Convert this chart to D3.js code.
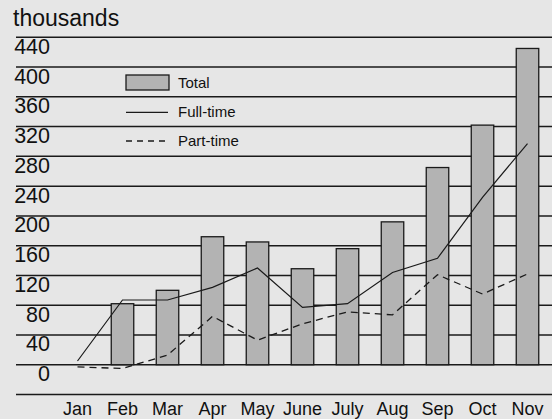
<!DOCTYPE html>
<html>
<head>
<meta charset="utf-8">
<script src="https://cdn.jsdelivr.net/npm/d3@7"></script>
<style>
  body { margin: 0; background: #e6e6e6; }
  svg { display: block; font-family: "Liberation Sans", Arial, sans-serif; }
</style>
</head>
<body>
<div class="chart"></div>
<script>
const width = 552
const height = 419

const months = ["Jan", "Feb", "Mar", "Apr", "May", "June", "July", "Aug", "Sep", "Oct", "Nov"]
const total = [0, 82, 100, 172, 165, 129, 156, 192, 265, 322, 425]
const fullTime = [5, 87, 87, 104, 130, 77, 82, 124, 143, 225, 297]
const partTime = [-3, -5, 13, 65, 33, 55, 71, 67, 121, 95, 122]
const yTicks = [0, 40, 80, 120, 160, 200, 240, 280, 320, 360, 400, 440]
const legendItems = ["Total", "Full-time", "Part-time"]

const ink = "#1a1a1a"

const svg = d3.select(".chart")
  .append("svg")
  .attr("width", width)
  .attr("height", height)

svg.append("rect")
  .attr("width", width)
  .attr("height", height)
  .attr("fill", "#e6e6e6")

const x = d3.scalePoint()
  .domain(months)
  .range([77.5, 527.5])

const barW = x.step() * 0.5

const y = d3.scaleLinear()
  .domain([-40, 440])
  .range([394.5, 37.3])

// gridlines, label sits under its line
const grid = svg.append("g")
grid.selectAll("line")
  .data(yTicks.concat([-40]))
  .join("line")
  .attr("x1", 16)
  .attr("x2", width)
  .attr("y1", d => y(d))
  .attr("y2", d => y(d))
  .attr("stroke", ink)
  .attr("stroke-width", 1.5)

grid.selectAll("text")
  .data(yTicks)
  .join("text")
  .attr("x", 50)
  .attr("y", d => y(d) + 16.5)
  .attr("text-anchor", "end")
  .attr("font-size", 21.5)
  .attr("fill", "#111")
  .text(d => d)

svg.append("text")
  .attr("x", 13)
  .attr("y", 26)
  .attr("font-size", 23)
  .attr("fill", "#111")
  .text("thousands")

// bars
svg.append("g")
  .selectAll("rect")
  .data(months.map((m, i) => ({ m, v: total[i] })).filter(d => d.v > 0))
  .join("rect")
  .attr("x", d => x(d.m) - barW / 2)
  .attr("y", d => y(d.v))
  .attr("width", barW)
  .attr("height", d => y(0) - y(d.v))
  .attr("fill", "#b3b3b3")
  .attr("stroke", ink)
  .attr("stroke-width", 1.3)

const line = d3.line()
  .x((d, i) => x(months[i]))
  .y(d => y(d))

svg.append("path")
  .datum(fullTime)
  .attr("d", line)
  .attr("fill", "none")
  .attr("stroke", ink)
  .attr("stroke-width", 1.2)

svg.append("path")
  .datum(partTime)
  .attr("d", line)
  .attr("fill", "none")
  .attr("stroke", ink)
  .attr("stroke-width", 1.3)
  .attr("stroke-dasharray", "7,5")

// month labels
svg.append("g")
  .selectAll("text")
  .data(months)
  .join("text")
  .attr("x", d => x(d))
  .attr("y", 415)
  .attr("text-anchor", "middle")
  .attr("font-size", 18)
  .attr("fill", "#111")
  .text(d => d)

// legend
const legend = svg.append("g").attr("transform", "translate(126,0)")
const legY = [82.5, 112.3, 141]

legend.append("rect")
  .attr("x", 0)
  .attr("y", legY[0] - 7.5)
  .attr("width", 43)
  .attr("height", 15)
  .attr("fill", "#b3b3b3")
  .attr("stroke", ink)
  .attr("stroke-width", 1.3)

legend.append("line")
  .attr("x1", 0).attr("x2", 42)
  .attr("y1", legY[1]).attr("y2", legY[1])
  .attr("stroke", ink)
  .attr("stroke-width", 1.2)

legend.append("line")
  .attr("x1", 0).attr("x2", 42)
  .attr("y1", legY[2]).attr("y2", legY[2])
  .attr("stroke", ink)
  .attr("stroke-width", 1.3)
  .attr("stroke-dasharray", "6,5")

legend.selectAll("text")
  .data(legendItems)
  .join("text")
  .attr("x", 52)
  .attr("y", (d, i) => legY[i] + 5)
  .attr("font-size", 15)
  .attr("fill", "#111")
  .text(d => d)
</script>
</body>
</html>
